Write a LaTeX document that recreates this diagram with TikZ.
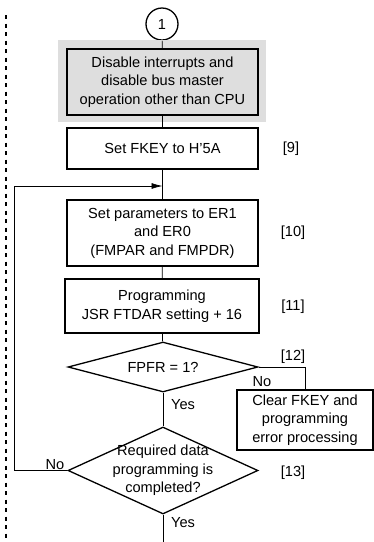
\documentclass[tikz,border=0pt]{standalone}
\usepackage{fontspec}
\setmainfont{Liberation Sans}
\usetikzlibrary{arrows.meta,shapes.geometric}
\definecolor{bggray}{HTML}{DEDEDE}
\begin{document}
\begin{tikzpicture}[x=1pt,y=-1pt,
	every node/.style={font=\fontsize{14.6}{18.5}\selectfont,align=center,inner sep=0},
	stepbox/.style={rectangle,draw,line width=1.3pt,minimum width=191,minimum height=#1},
	decision/.style={diamond,draw,line width=1.3pt,minimum width=190,minimum height=#1},
	link/.style={line width=0.7pt}]
\useasboundingbox (0,0) rectangle (374,542);
% left margin marker
\draw[line width=2pt,dash pattern=on 4pt off 4.5pt] (6,15) -- (6,542);
\node[circle,draw,line width=1.3pt,minimum size=32] (c1) at (162,24) {1};
\fill[bggray] (58,40) rectangle (266,122);
\node[stepbox=66,fill=bggray] (b1) at (162.5,82) {Disable interrupts and\\disable bus master\\operation other than CPU};
\node[stepbox=41] (b2) at (162.5,148.5) {Set FKEY to H'5A};
\node[stepbox=66] (b3) at (162.5,233) {Set parameters to ER1\\and ER0\\(FMPAR and FMPDR)};
\node[stepbox=54,minimum width=194] (b4) at (162,306) {Programming\\JSR FTDAR setting + 16};
\node[decision=50] (d1) at (163,367) {};
\node (t1) at (d1) {FPFR = 1?};
\node[stepbox=60,minimum width=136] (b5) at (305,420) {Clear FKEY and\\programming\\error processing};
\node[decision=87] (d2) at (163,470.5) {};
\node (t2) at (d2) {Required data\\programming is\\completed?};
% step numbers
\node (n9) at (291,149) {[9]};
\node (n10) at (293,233) {[10]};
\node (n11) at (293,307) {[11]};
\node (n12) at (293,357) {[12]};
\node (n13) at (293,473) {[13]};
% connectors
\coordinate (join) at (162.5,186);
\coordinate (out) at (163,542);
\draw[link] (c1) -- (b1);
\draw[link] (b1) -- (b2);
\draw[link] (b2) -- (b3);
\draw[link] (b3) -- (b4);
\draw[link] (b4) -- (d1);
\draw[link] (d1) -- (d2);
\draw[link] (d2) -- (out);
\draw[link] (d1.east) -| (b5.north);
\draw[link,-{Latex[length=11pt,width=6pt]}] (d2.west) -- ++(-53,0) |- (join);
\node (y1) at (183,405) {Yes};
\node (y2) at (183,523) {Yes};
\node (no1) at (262,382) {No};
\node (no2) at (55,465) {No};
\end{tikzpicture}
\end{document}
